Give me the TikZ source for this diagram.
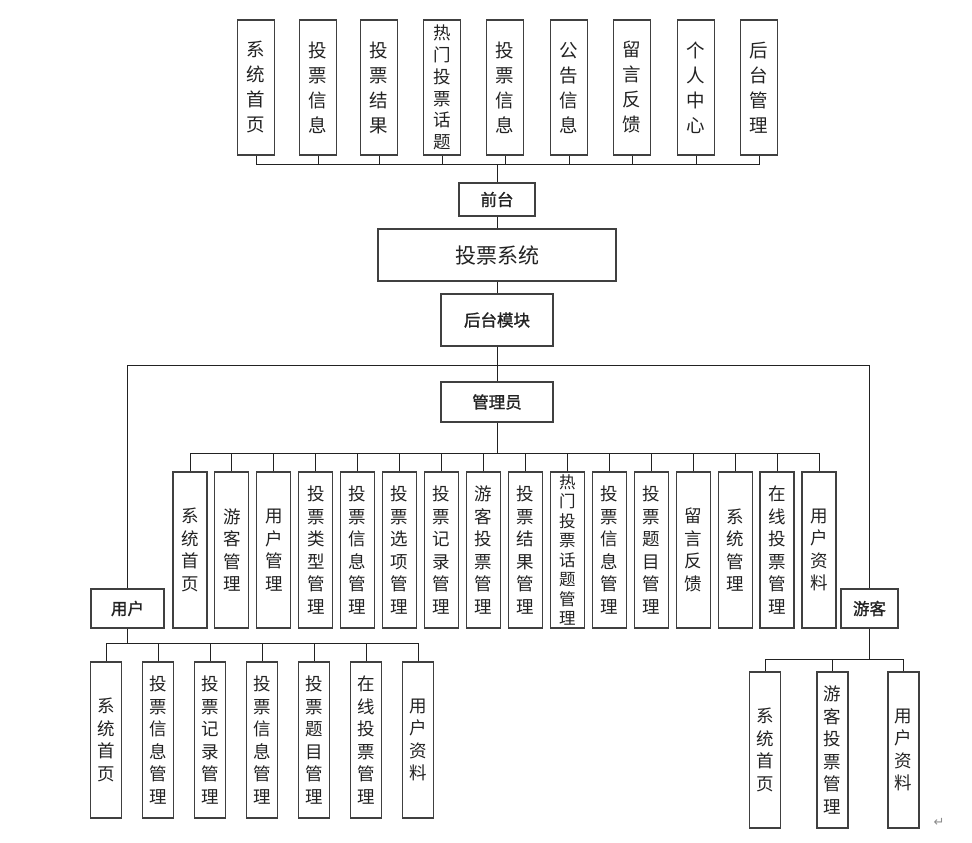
\documentclass[tikz,border=0pt]{standalone}
\usepackage{fontspec}
\usepackage{tikz}
\setmainfont{Noto Sans CJK SC}
\newfontfamily\headfont{Noto Sans CJK SC}[FakeBold=1.3]
\newfontfamily\symfont{DejaVu Sans}
\definecolor{boxgray}{RGB}{64,64,64}
\definecolor{inkgray}{RGB}{34,34,34}

\begin{document}
\begin{tikzpicture}[x=1pt, y=-1pt,
  box/.style={draw=boxgray, line width=1.1pt, inner sep=0pt, align=center, text=inkgray},
  topbox/.style={box, minimum width=37pt, minimum height=135pt, font=\fontsize{18.5}{25}\selectfont},
  subbox/.style={box, minimum width=34pt, minimum height=156pt, font=\fontsize{17.5}{22.5}\selectfont},
  userbox/.style={box, minimum width=31pt, minimum height=156pt, font=\fontsize{17.5}{22.5}\selectfont},
  headbox/.style={box, font=\headfont\fontsize{16.5}{18}\selectfont},
  link/.style={draw=inkgray, line width=1pt},
]
  \useasboundingbox (0,0) rectangle (972,843);

  % front end
  \node[topbox] (fhome) at (256,87.5) {系\\统\\首\\页};
  \node[topbox] (fvote) at (318,87.5) {投\\票\\信\\息};
  \node[topbox] (fresult) at (379,87.5) {投\\票\\结\\果};
  \node[topbox, font=\fontsize{17.5}{21.8}\selectfont] (fhot) at (442,87.5) {热\\门\\投\\票\\话\\题};
  \node[topbox] (fvote2) at (505,87.5) {投\\票\\信\\息};
  \node[topbox] (fnotice) at (569,87.5) {公\\告\\信\\息};
  \node[topbox] (fmsg) at (632,87.5) {留\\言\\反\\馈};
  \node[topbox] (fcenter) at (696,87.5) {个\\人\\中\\心};
  \node[topbox] (fadmin) at (759,87.5) {后\\台\\管\\理};

  \node[headbox, minimum width=76pt, minimum height=33pt] (front) at (497,199.5) {前台};
  \node[box, minimum width=238pt, minimum height=52pt, font=\fontsize{21}{24}\selectfont] (sys) at (497,255) {投票系统};
  \node[headbox, minimum width=112pt, minimum height=52pt] (back) at (497,320) {后台模块};
  \node[headbox, minimum width=112pt, minimum height=40pt] (admin) at (497,402) {管理员};
  \node[headbox, minimum width=73pt, minimum height=39pt] (user) at (127.5,608.5) {用户};
  \node[headbox, minimum width=57pt, minimum height=39pt] (guest) at (869.5,608.5) {游客};

  \coordinate (fbus) at (497,164);
  \coordinate (split) at (497,365);
  \coordinate (abus) at (497,453);
  \coordinate (ubus) at (127.5,643);
  \coordinate (gbus) at (869.5,659);

  \foreach \n in {fhome,fvote,fresult,fhot,fvote2,fnotice,fmsg,fcenter,fadmin}
    \draw[link] (\n.south) |- (fbus);
  \draw[link] (fbus) -- (front);
  \draw[link] (front) -- (sys);
  \draw[link] (sys) -- (back);
  \draw[link] (back) -- (admin);
  \draw[link] (split) -| (user);
  \draw[link] (split) -| (guest);
  \draw[link] (admin) -- (abus);
  \draw[link] (user) -- (ubus);
  \draw[link] (guest) -- (gbus);

  % admin
  \node[subbox] (ahome) at (190,550) {系\\统\\首\\页};
  \node[subbox] (aguest) at (231.9,550) {游\\客\\管\\理};
  \node[subbox] (auser) at (273.9,550) {用\\户\\管\\理};
  \node[subbox] (atype) at (315.8,550) {投\\票\\类\\型\\管\\理};
  \node[subbox] (ainfo) at (357.7,550) {投\\票\\信\\息\\管\\理};
  \node[subbox] (aoption) at (399.7,550) {投\\票\\选\\项\\管\\理};
  \node[subbox] (arecord) at (441.6,550) {投\\票\\记\\录\\管\\理};
  \node[subbox] (agvote) at (483.5,550) {游\\客\\投\\票\\管\\理};
  \node[subbox] (aresult) at (525.4,550) {投\\票\\结\\果\\管\\理};
  \node[subbox, font=\fontsize{16.5}{19.5}\selectfont] (ahot) at (567.4,550) {热\\门\\投\\票\\话\\题\\管\\理};
  \node[subbox] (ainfo2) at (609.3,550) {投\\票\\信\\息\\管\\理};
  \node[subbox] (atopic) at (651.2,550) {投\\票\\题\\目\\管\\理};
  \node[subbox] (amsg) at (693.2,550) {留\\言\\反\\馈};
  \node[subbox] (asys) at (735.1,550) {系\\统\\管\\理};
  \node[subbox] (aonline) at (777,550) {在\\线\\投\\票\\管\\理};
  \node[subbox] (aprofile) at (819,550) {用\\户\\资\\料};
  \foreach \n in {ahome,aguest,auser,atype,ainfo,aoption,arecord,agvote,aresult,ahot,ainfo2,atopic,amsg,asys,aonline,aprofile}
    \draw[link] (\n.north) |- (abus);

  % user
  \node[userbox] (uhome) at (106,740) {系\\统\\首\\页};
  \node[userbox] (uinfo) at (158,740) {投\\票\\信\\息\\管\\理};
  \node[userbox] (urecord) at (210,740) {投\\票\\记\\录\\管\\理};
  \node[userbox] (uinfo2) at (262,740) {投\\票\\信\\息\\管\\理};
  \node[userbox] (utopic) at (314,740) {投\\票\\题\\目\\管\\理};
  \node[userbox] (uonline) at (366,740) {在\\线\\投\\票\\管\\理};
  \node[userbox] (uprofile) at (418,740) {用\\户\\资\\料};
  \foreach \n in {uhome,uinfo,urecord,uinfo2,utopic,uonline,uprofile}
    \draw[link] (\n.north) |- (ubus);

  % guest
  \node[userbox] (ghome) at (765,750) {系\\统\\首\\页};
  \node[userbox] (gvote) at (832.5,750) {游\\客\\投\\票\\管\\理};
  \node[userbox] (gprofile) at (903.5,750) {用\\户\\资\\料};
  \foreach \n in {ghome,gvote,gprofile}
    \draw[link] (\n.north) |- (gbus);

  \node[text=black!45, font=\symfont\fontsize{13}{13}\selectfont] (ret) at (939,822) {↵};
\end{tikzpicture}
\end{document}
